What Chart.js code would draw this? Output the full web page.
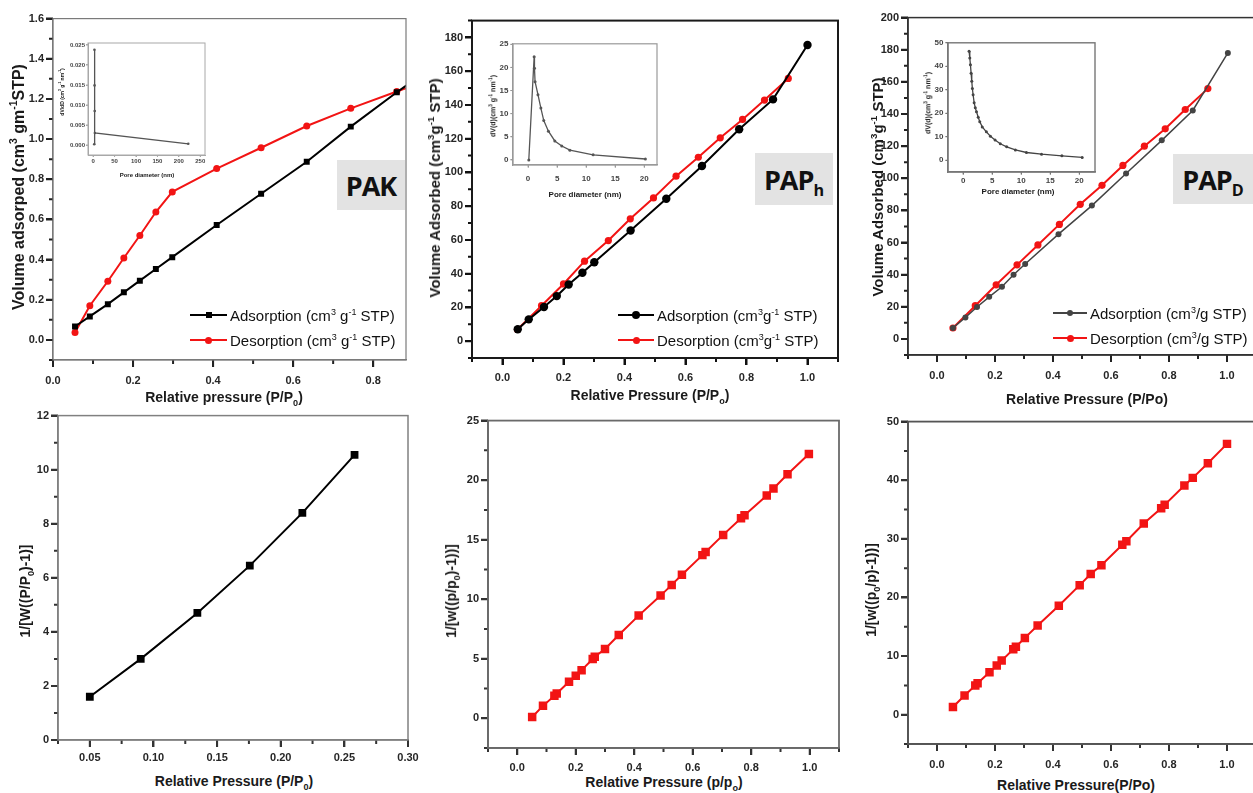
<!DOCTYPE html>
<html>
<head>
<meta charset="utf-8">
<script src="https://cdn.jsdelivr.net/npm/chart.js@4.4.1/dist/chart.umd.min.js"></script>
<style>
  body { margin: 0; width: 1253px; height: 793px; overflow: hidden; background: #fff; position: relative;
         font-family: "Liberation Sans", Arial, "DejaVu Sans", sans-serif; }
  canvas { position: absolute; }
  .ttl { position: absolute; white-space: nowrap; font-weight: bold; color: #1a1a1a; line-height: 1; }
  .ttl sup, .ttl sub { font-size: 65%; }
  .lg { position: absolute; white-space: nowrap; color: #111; line-height: 1; }
  .lg .ln { position: absolute; top: 50%; height: 2px; margin-top: -1px; }
  .lg .mk { position: absolute; top: 50%; }
  .lg sup { font-size: 60%; }
  .tag { position: absolute; background: #e3e3e3; font-family: "Open Sans", "Noto Sans", sans-serif; font-weight: 700;
         color: #111; display: flex; align-items: center; justify-content: center; letter-spacing: -1px; }
  .tag sub { font-size: 60%; vertical-align: -0.35em; letter-spacing: 0; line-height: 0; }
</style>
</head>
<body>
<script>
// ===== DATOS =====

// PAK isotherm (relative pressure, volume)
var pakP   = [0.055, 0.092, 0.137, 0.177, 0.217, 0.257, 0.298, 0.409, 0.52, 0.634, 0.744, 0.859, 0.92];
var pakAds = [0.067, 0.117, 0.178, 0.237, 0.295, 0.353, 0.412, 0.572, 0.728, 0.887, 1.062, 1.233, 1.32];
var pakDes = [0.037, 0.17, 0.292, 0.408, 0.52, 0.637, 0.737, 0.853, 0.957, 1.065, 1.153, 1.237, 1.28];

// PAPh isotherm
var papHAdsP = [0.05, 0.086, 0.136, 0.178, 0.217, 0.262, 0.301, 0.42, 0.537, 0.654, 0.776, 0.887, 1.0];
var papHAds  = [7, 12.9, 20.2, 26.7, 33.6, 40.5, 46.8, 65.6, 84.4, 103.8, 125.6, 143.3, 175.5];
var papHDesP = [0.049, 0.128, 0.2, 0.269, 0.347, 0.419, 0.495, 0.569, 0.642, 0.714, 0.787, 0.859, 0.937];
var papHDes  = [6.9, 21.0, 33.9, 47.4, 59.6, 72.5, 84.9, 97.8, 109, 120.5, 131.4, 142.9, 155.7];

// PAPD isotherm
var papDAdsP = [0.055, 0.098, 0.138, 0.18, 0.224, 0.264, 0.304, 0.419, 0.534, 0.652, 0.775, 0.882, 1.003];
var papDAds  = [6.8, 13.4, 19.9, 26.2, 32.5, 40, 46.6, 65.2, 83, 103, 123.6, 142.2, 178];
var papDDesP = [0.055, 0.132, 0.204, 0.276, 0.348, 0.422, 0.494, 0.569, 0.641, 0.715, 0.787, 0.856, 0.934];
var papDDes  = [6.8, 20.7, 33.7, 46.1, 58.5, 71.3, 83.8, 95.6, 108, 120, 130.8, 142.8, 155.8];

// pore size distributions (insets)
var pakPoreD  = [2.5, 3, 3.3, 3.6, 4, 222];
var pakPoreV  = [0.0002, 0.0238, 0.0149, 0.0085, 0.003, 0.0003];
var papHPoreD = [0.12, 1.04, 1.1, 1.2, 1.7, 2.2, 2.7, 3.5, 4.6, 5.8, 7.2, 11.2, 20.2];
var papHPoreV = [0, 22.3, 19.8, 16.9, 14.1, 11.2, 8.5, 6.2, 4.1, 3.0, 2.1, 1.1, 0.2];
var papDPoreD = [1.03, 1.15, 1.26, 1.38, 1.49, 1.6, 1.72, 1.9, 2.1, 2.3, 2.6, 2.87, 3.3, 4.0, 4.7, 5.5, 6.4, 7.5, 9.0, 10.9, 13.5, 17, 20.5];
var papDPoreV = [46.4, 43.5, 40.7, 37, 33.6, 30.5, 27.9, 24.5, 22.3, 20.7, 18.3, 16.4, 14.2, 12.1, 10.2, 8.6, 7.0, 5.7, 4.4, 3.3, 2.6, 1.9, 1.2];

// BET plots
var pakBetP  = [0.05, 0.09, 0.1345, 0.1757, 0.217, 0.258];
var pakBet   = [1.6, 3.0, 4.7, 6.45, 8.4, 10.55];
var papHBetP = [0.051, 0.088, 0.127, 0.135, 0.177, 0.2, 0.22, 0.258, 0.265, 0.3, 0.347, 0.415, 0.49, 0.528, 0.563, 0.633, 0.644, 0.704, 0.765, 0.777, 0.853, 0.876, 0.924, 0.997];
var papHBet  = [0.11, 1.04, 1.88, 2.08, 3.06, 3.57, 4.04, 4.97, 5.17, 5.81, 6.99, 8.62, 10.3, 11.2, 12.05, 13.7, 13.96, 15.4, 16.8, 17.05, 18.7, 19.3, 20.5, 22.2];
var papDBetP = [0.055, 0.095, 0.132, 0.14, 0.181, 0.206, 0.223, 0.263, 0.272, 0.303, 0.347, 0.42, 0.492, 0.53, 0.567, 0.639, 0.653, 0.713, 0.773, 0.785, 0.853, 0.882, 0.934, 1.0];
var papDBet  = [1.3, 3.28, 4.98, 5.38, 7.25, 8.38, 9.23, 11.15, 11.6, 13.1, 15.2, 18.6, 22.1, 24.0, 25.5, 29.0, 29.6, 32.6, 35.2, 35.8, 39.1, 40.4, 42.9, 46.2];

// tick labels
var tkPakX   = [0, 0.2, 0.4, 0.6, 0.8];
var tkPakY   = [0, 0.2, 0.4, 0.6, 0.8, 1.0, 1.2, 1.4, 1.6];
var tkPapX   = [0, 0.2, 0.4, 0.6, 0.8, 1.0];
var tkPapHY  = [0, 20, 40, 60, 80, 100, 120, 140, 160, 180];
var tkPapDY  = [0, 20, 40, 60, 80, 100, 120, 140, 160, 180, 200];
var tkBetX   = [0.05, 0.10, 0.15, 0.20, 0.25, 0.30];
var tkBetY   = [0, 2, 4, 6, 8, 10, 12];
var tkBetHY  = [0, 5, 10, 15, 20, 25];
var tkBetDY  = [0, 10, 20, 30, 40, 50];
var tkInPakX = [0, 50, 100, 150, 200, 250];
var tkInPakY = [0, 0.005, 0.010, 0.015, 0.020, 0.025];
var tkInX    = [0, 5, 10, 15, 20];
var tkInHY   = [0, 5, 10, 15, 20, 25];
var tkInDY   = [0, 10, 20, 30, 40, 50];

// ===== CHART SETUP =====
var FONT = '"Liberation Sans", Arial, "DejaVu Sans", sans-serif';
Chart.defaults.font.family = FONT;
Chart.defaults.animation = false;
Chart.defaults.events = [];
Chart.defaults.plugins.legend.display = false;
Chart.defaults.plugins.tooltip.enabled = false;

var RED = '#f21414';

// major + minor ticks and box frame, settings taken from the panel config
function framePlugin(p) {
  return {
    id: 'frame',
    afterDraw: function(chart) {
      var ctx = chart.ctx, a = chart.chartArea;
      ctx.save();
      ctx.strokeStyle = p.tk || p.fc;
      ctx.lineWidth = p.tkw || 2;
      ['x', 'y'].forEach(function(id) {
        var s = chart.scales[id], t = s.ticks;
        ctx.beginPath();
        t.forEach(function(tk) {
          var q = s.getPixelForValue(tk.value);
          if (id === 'x') { ctx.moveTo(q, a.bottom); ctx.lineTo(q, a.bottom + p.tl); }
          else { ctx.moveTo(a.left, q); ctx.lineTo(a.left - p.tl, q); }
        });
        if (p.ml && t.length > 1) {
          var step = t[1].value - t[0].value;
          for (var v = t[0].value - step * 1.5; v <= s.max + 1e-9; v += step) {
            if (v < s.min - 1e-9) continue;
            var m = s.getPixelForValue(v);
            if (id === 'x') { ctx.moveTo(m, a.bottom); ctx.lineTo(m, a.bottom + p.ml); }
            else { ctx.moveTo(a.left, m); ctx.lineTo(a.left - p.ml, m); }
          }
        }
        ctx.stroke();
      });
      ctx.strokeStyle = p.fc;
      ctx.lineWidth = p.fw;
      ctx.strokeRect(a.left, a.top, a.right - a.left, a.bottom - a.top);
      ctx.restore();
    }
  };
}

function pts(xs, ys) {
  return xs.map(function(x, i) { return { x: x, y: ys[i] }; });
}

function series(xs, ys, color, style, r, bw) {
  return {
    data: pts(xs, ys), borderColor: color, backgroundColor: color, borderWidth: bw || 2,
    pointStyle: style, pointRadius: r, pointBorderWidth: 0, pointBackgroundColor: color, tension: 0
  };
}

function axis(p, min, max, ticks, dec, isX) {
  var tc = p.tk || p.fc;
  return {
    type: 'linear', min: min, max: max,
    afterFit: function(s) { if (isX) s.height = p.padB; else s.width = p.padL; },
    afterBuildTicks: function(s) { s.ticks = ticks.map(function(v) { return { value: v }; }); },
    ticks: {
      autoSkip: false, maxRotation: 0, padding: isX ? p.tpx : p.tpy, color: p.tcol || '#262626',
      font: { size: p.fs, weight: 'bold' },
      callback: function(v) { return v.toFixed(dec); }
    },
    grid: {
      display: true, drawOnChartArea: false, drawTicks: true, tickLength: p.tl,
      color: tc, tickColor: tc, tickWidth: p.tkw || 2, lineWidth: p.tkw || 2
    },
    border: { display: true, color: p.fc, width: p.fw }
  };
}

function panel(p) {
  var f = p.frame, padT = p.padT || 8, padR = p.padR || 16;
  var w = f[2] - f[0] + p.padL + padR, h = f[3] - f[1] + padT + p.padB;
  var c = document.createElement('canvas');
  c.width = w; c.height = h;
  c.style.left = (f[0] - p.padL) + 'px';
  c.style.top = (f[1] - padT) + 'px';
  c.style.width = w + 'px';
  c.style.height = h + 'px';
  document.body.appendChild(c);
  new Chart(c, {
    type: 'line',
    data: { datasets: p.sets },
    options: {
      responsive: false,
      layout: { padding: { top: padT, right: padR, left: 0, bottom: 0 } },
      scales: {
        x: axis(p, p.x[0], p.x[1], p.xt, p.xd, true),
        y: axis(p, p.y[0], p.y[1], p.yt, p.yd, false)
      }
    },
    plugins: [framePlugin(p)]
  });
}

function title(html, x, y, size, rot) {
  var d = document.createElement('div');
  d.className = 'ttl';
  d.innerHTML = html;
  d.style.left = x + 'px';
  d.style.top = y + 'px';
  d.style.fontSize = size + 'px';
  d.style.transform = 'translate(-50%,-50%)' + (rot ? ' rotate(-90deg)' : '');
  document.body.appendChild(d);
}

function legendItem(html, x, y, color, shape, size, lineW) {
  var d = document.createElement('div');
  d.className = 'lg';
  d.style.left = x + 'px';
  d.style.top = (y - 8) + 'px';
  d.style.height = '16px';
  d.style.paddingLeft = (lineW + 3) + 'px';
  d.style.fontSize = '15px';
  d.innerHTML = '<span class="ln" style="left:0;width:' + lineW + 'px;background:' + color + '"></span>' +
    '<span class="mk" style="left:' + (lineW / 2 - size / 2) + 'px;width:' + size + 'px;height:' + size +
    'px;margin-top:' + (-size / 2) + 'px;background:' + color + ';border-radius:' + (shape === 'circle' ? '50%' : '0') +
    '"></span><span style="position:relative;top:1px">' + html + '</span>';
  document.body.appendChild(d);
}

function tag(html, l, t, r, b, size) {
  var d = document.createElement('div');
  d.className = 'tag';
  d.style.left = l + 'px'; d.style.top = t + 'px';
  d.style.width = (r - l) + 'px'; d.style.height = (b - t) + 'px';
  d.style.fontSize = size + 'px';
  d.innerHTML = '<span>' + html + '</span>';
  document.body.appendChild(d);
}

// ===== TOP ROW: isotherms =====
panel({
  frame: [53, 18, 406, 360], padL: 45, padB: 28,
  x: [0, 0.882], y: [-0.1, 1.6], xt: tkPakX, yt: tkPakY, xd: 1, yd: 1,
  fs: 11, tpx: 7, tpy: 2, tl: 7, ml: 4, fc: '#7a7a7a', fw: 1.2, tk: '#222',
  sets: [series(pakP, pakAds, '#000', 'rect', 4.2, 2), series(pakP, pakDes, RED, 'circle', 3.5, 2)]
});
panel({
  frame: [472, 20, 838, 358], padL: 45, padB: 28,
  x: [-0.1, 1.1], y: [-10, 190], xt: tkPapX, yt: tkPapHY, xd: 1, yd: 0,
  fs: 11, tpx: 6, tpy: 2, tl: 7, ml: 4, fc: '#1a1a1a', fw: 2, tk: '#111', tkw: 2,
  sets: [series(papHAdsP, papHAds, '#000', 'circle', 4.2, 2), series(papHDesP, papHDes, RED, 'circle', 3.6, 2)]
});
panel({
  frame: [908, 17, 1256, 355], padL: 45, padB: 28,
  x: [-0.1, 1.1], y: [-10, 200], xt: tkPapX, yt: tkPapDY, xd: 1, yd: 0,
  fs: 11, tpx: 7, tpy: 2, tl: 7, ml: 4, fc: '#333', fw: 1.5, tk: '#222',
  sets: [series(papDAdsP, papDAds, '#444', 'circle', 3, 1.5), series(papDDesP, papDDes, RED, 'circle', 3.6, 2)]
});

// ===== BOTTOM ROW: BET plots =====
panel({
  frame: [58, 415, 408, 740], padL: 45, padB: 26,
  x: [0.025, 0.30], y: [0, 12], xt: tkBetX, yt: tkBetY, xd: 2, yd: 0,
  fs: 11, tpx: 4, tpy: 2, tl: 7, ml: 4, fc: '#808080', fw: 1.5, tk: '#333',
  sets: [series(pakBetP, pakBet, '#000', 'rect', 5.5, 2)]
});
panel({
  frame: [488, 420, 839, 748], padL: 45, padB: 26,
  x: [-0.1, 1.1], y: [-2.5, 25], xt: tkPapX, yt: tkBetHY, xd: 1, yd: 0,
  fs: 11, tpx: 6, tpy: 2, tl: 7, ml: 4, fc: '#6a6a6a', fw: 1.8, tk: '#333',
  sets: [series(papHBetP, papHBet, RED, 'rect', 6, 2)]
});
panel({
  frame: [908, 421, 1256, 744], padL: 45, padB: 28,
  x: [-0.1, 1.1], y: [-5, 50], xt: tkPapX, yt: tkBetDY, xd: 1, yd: 0,
  fs: 11, tpx: 7, tpy: 2, tl: 7, ml: 4, fc: '#555', fw: 1.8, tk: '#333',
  sets: [series(papDBetP, papDBet, RED, 'rect', 6, 2)]
});

// ===== INSETS: pore size distribution =====
panel({
  frame: [88, 43, 205, 155], padL: 20, padB: 12, padT: 6, padR: 8,
  x: [-12, 261], y: [-0.0025, 0.0255], xt: tkInPakX, yt: tkInPakY, xd: 0, yd: 3,
  fs: 6, tpx: 1, tpy: 1, tl: 2, ml: 0, fc: '#a8a8a8', fw: 1, tcol: '#444', tkw: 1,
  sets: [series(pakPoreD, pakPoreV, '#555', 'circle', 1.3, 1.3)]
});
panel({
  frame: [513, 43, 657, 165], padL: 18, padB: 22, padT: 6, padR: 8,
  x: [-2.6, 22.2], y: [-1.1, 25.1], xt: tkInX, yt: tkInHY, xd: 0, yd: 0,
  fs: 8, tpx: 6, tpy: 2, tl: 2.5, ml: 0, fc: '#999', fw: 1.2, tcol: '#444', tkw: 1,
  sets: [series(papHPoreD, papHPoreV, '#555', 'circle', 1.5, 1.3)]
});
panel({
  frame: [948, 42, 1095, 172], padL: 18, padB: 14, padT: 6, padR: 8,
  x: [-2.6, 22.7], y: [-5, 50], xt: tkInX, yt: tkInDY, xd: 0, yd: 0,
  fs: 8, tpx: 1, tpy: 2, tl: 2.5, ml: 0, fc: '#777', fw: 1.4, tcol: '#444', tkw: 1,
  sets: [series(papDPoreD, papDPoreV, '#444', 'circle', 1.5, 1.3)]
});

// ===== AXIS TITLES =====
title('Volume adsorped (cm<sup>3</sup> gm<sup>-1</sup>STP)', 18, 187, 16, true);
title('Relative pressure (P/P<sub>0</sub>)', 224, 399, 14, false);
title('Volume Adsorbed (cm<sup>3</sup>g<sup>-1</sup> STP)', 434, 188, 15, true);
title('Relative Pressure (P/P<sub>o</sub>)', 650, 397, 14, false);
title('Volume Adsorbed (cm<sup>3</sup>g<sup>-1</sup> STP)', 877, 187, 15, true);
title('Relative Pressure (P/Po)', 1087, 399, 14, false);

title('1/[W((P/P<sub>0</sub>)-1)]', 27, 591, 14, true);
title('Relative Pressure (P/P<sub>0</sub>)', 234, 783, 14, false);
title('1/[w((p/p<sub>0</sub>)-1))]', 453, 591, 14, true);
title('Relative Pressure (p/p<sub>o</sub>)', 664, 784, 14, false);
title('1/[w((p<sub>0</sub>/p)-1))]', 873, 590, 14, true);
title('Relative Pressure(P/Po)', 1076, 785, 14, false);

title('dV/dD (cm<sup>3</sup> g<sup>-1</sup> nm<sup>-1</sup>)', 62, 92, 5, true);
title('Pore diameter (nm)', 147, 175, 6, false);
title('dV(d)(cm<sup>3</sup> g<sup>-1</sup> nm<sup>-1</sup>)', 493, 106, 7, true);
title('Pore diameter (nm)', 585, 195, 8, false);
title('dV(d)(cm<sup>3</sup> g<sup>-1</sup> nm<sup>-1</sup>)', 928, 103, 7, true);
title('Pore diameter (nm)', 1018, 192, 8, false);

// ===== LEGENDS =====
legendItem('Adsorption (cm<sup>3</sup> g<sup>-1</sup> STP)', 190, 315, '#000', 'rect', 6, 37);
legendItem('Desorption (cm<sup>3</sup> g<sup>-1</sup> STP)', 190, 340, RED, 'circle', 7, 37);
legendItem('Adsorption (cm<sup>3</sup>g<sup>-1</sup> STP)', 618, 315, '#000', 'circle', 8, 36);
legendItem('Desorption (cm<sup>3</sup>g<sup>-1</sup> STP)', 618, 340, RED, 'circle', 7, 36);
legendItem('Adsorption (cm<sup>3</sup>/g STP)', 1053, 313, '#444', 'circle', 6, 34);
legendItem('Desorption (cm<sup>3</sup>/g STP)', 1053, 338, RED, 'circle', 7, 34);

// ===== SAMPLE TAGS =====
tag('PAK', 337, 160, 405, 210, 27);
tag('PAP<sub>h</sub>', 755, 153, 833, 205, 27);
tag('PAP<sub>D</sub>', 1173, 154, 1253, 204, 27);
</script>
</body>
</html>
